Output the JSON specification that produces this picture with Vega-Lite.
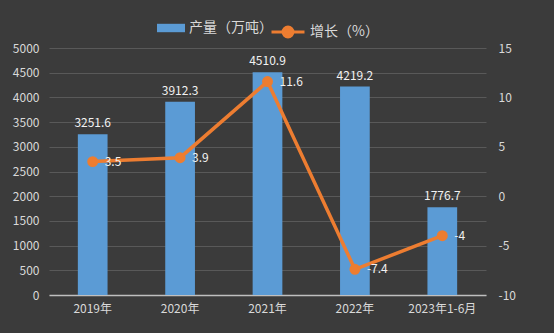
{
  "$schema": "https://vega.github.io/schema/vega-lite/v6.json",
  "autosize": {"type": "none"},
  "width": 437,
  "height": 247,
  "padding": {"left": 49, "top": 48, "right": 68, "bottom": 38},
  "background": "#3b3b3b",
  "config": {
    "locale": {"number": {"decimal": ".", "thousands": "", "grouping": [3], "currency": ["", ""], "minus": "-"}},
    "view": {"stroke": null},
    "font": "Noto Sans CJK SC",
    "axis": {"labelColor": "#d9d9d9", "labelFontSize": 12, "ticks": false, "domain": false, "gridColor": "#595959", "gridWidth": 1}
  },
  "data": {
    "values": [
      {"year": "2019年", "prod": 3251.6, "growth": 3.5, "pl": "产量（万吨）", "gl": "增长（%）"},
      {"year": "2020年", "prod": 3912.3, "growth": 3.9, "pl": "产量（万吨）", "gl": "增长（%）"},
      {"year": "2021年", "prod": 4510.9, "growth": 11.6, "pl": "产量（万吨）", "gl": "增长（%）"},
      {"year": "2022年", "prod": 4219.2, "growth": -7.4, "pl": "产量（万吨）", "gl": "增长（%）"},
      {"year": "2023年1-6月", "prod": 1776.7, "growth": -4, "pl": "产量（万吨）", "gl": "增长（%）"}
    ]
  },
  "encoding": {
    "x": {"field": "year", "type": "nominal", "sort": null, "scale": {"paddingInner": 0.66, "paddingOuter": 0.33},
      "axis": {"title": null, "labelAngle": 0, "labelPadding": 8, "domain": true, "domainColor": "#bfbfbf", "domainWidth": 1.5}}
  },
  "layer": [
    {
      "encoding": {
        "y": {"field": "prod", "type": "quantitative", "scale": {"domain": [0, 5000]},
          "axis": {"title": null, "values": [0,500,1000,1500,2000,2500,3000,3500,4000,4500,5000], "labelPadding": 10}}
      },
      "layer": [
        {
          "mark": {"type": "bar", "color": {"gradient": "linear", "x1": 0, "y1": 0, "x2": 0, "y2": 1, "stops": [{"offset": 0, "color": "#5ea4e8"}, {"offset": 1, "color": "#3f86cc"}]}},
          "encoding": {
            "fill": {"field": "pl", "type": "nominal", "scale": {"range": ["#5b9bd5"]},
              "legend": {"title": null, "orient": "none", "legendX": 108, "legendY": -34, "symbolType": "M-1,-0.3H1V0.3H-1Z", "symbolSize": 784, "labelColor": "#d9d9d9", "labelFontSize": 14, "symbolStrokeWidth": 0}}
          }
        },
        {
          "mark": {"type": "text", "color": "#f2f2f2", "fontSize": 12, "dy": -11},
          "encoding": {
            "text": {"field": "prod", "type": "quantitative", "format": ".1f"}
          }
        }
      ]
    },
    {
      "encoding": {
        "y": {"field": "growth", "type": "quantitative", "scale": {"domain": [-10, 15]},
          "axis": {"orient": "right", "title": null, "values": [-10,-5,0,5,10,15], "grid": false, "labelPadding": 12}}
      },
      "layer": [
        {
          "mark": {"type": "line", "color": "#ed7d31", "strokeWidth": 3.5, "point": {"filled": true, "size": 80, "color": "#ed7d31"}},
          "encoding": {
            "stroke": {"field": "gl", "type": "nominal", "scale": {"range": ["#ed7d31"]},
              "legend": {"title": null, "orient": "none", "legendX": 221, "legendY": -34, "symbolType": "M-1,0H1M-0.3,0A0.3,0.3 0 1,0 0.3,0A0.3,0.3 0 1,0 -0.3,0Z", "symbolSize": 1089, "symbolFillColor": "#ed7d31", "symbolStrokeWidth": 3, "labelColor": "#d9d9d9", "labelFontSize": 14}}
          }
        },
        {
          "mark": {"type": "text", "color": "#f2f2f2", "fontSize": 12, "align": "left", "dx": 12},
          "encoding": {
            "text": {"field": "growth", "type": "quantitative"}
          }
        }
      ]
    }
  ],
  "resolve": {"scale": {"y": "independent"}}
}
